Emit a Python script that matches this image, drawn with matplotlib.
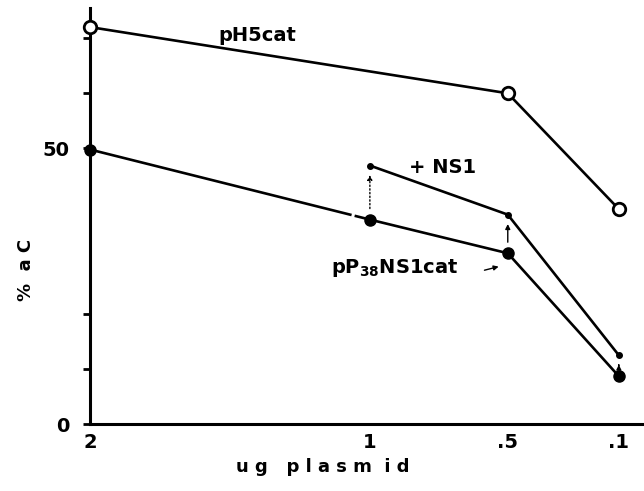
import matplotlib
matplotlib.use('Agg')
import matplotlib.pyplot as plt

# dose of plasmid (ug) and where each sits along the x axis
doses = ['2', '1', '.5', '.1']
x_pos = [0, 1, 1.493, 1.89]

ph5cat = [72, 60, 39]          # at 2, .5, .1
ph5cat_x = [0, 2, 3]
pp38 = [49.8, 37.1, 31, 8.7]   # at 2, 1, .5, .1
ns1 = [46.9, 38, 12.5]         # at 1, .5, .1
ns1_x = [1, 2, 3]

yticks = [0, 10, 20, 50, 60, 70]
ylabels = {0: '0', 50: '50'}

plt.rcParams['font.family'] = ['DejaVu Sans']
plt.rcParams['font.weight'] = 'bold'

fig = plt.figure(figsize=(6.44, 4.91), dpi=100)
ax = fig.add_axes([0.14, 0.136, 0.86, 0.847])

xa = [x_pos[i] for i in ph5cat_x]
ax.plot(xa, ph5cat, c='k', lw=1.9, marker='o', ms=9, mfc='white', mec='k', mew=2, clip_on=False, zorder=3)

# lower line has a small break between 2 and 1
xb = [x_pos[i] for i in range(4)]
ax.plot([xb[0], 0.93], [pp38[0], pp38[0] + (pp38[1] - pp38[0]) * 0.93], c='k', lw=1.9, clip_on=False)
ax.plot([0.95] + xb[1:], [pp38[0] + (pp38[1] - pp38[0]) * 0.95] + pp38[1:], c='k', lw=1.9)
ax.plot(xb, pp38, ls='none', marker='o', ms=8, c='k', clip_on=False, zorder=3)

xc = [x_pos[i] for i in ns1_x]
ax.plot(xc, ns1, c='k', lw=1.9, marker='o', ms=4, clip_on=False, zorder=3)

# arrows from pP38NS1cat up to +NS1
for i, xi in enumerate(xc):
    y0 = pp38[ns1_x[i]]
    y1 = ns1[i]
    ax.annotate('', xy=(xi, y1 - 1.2), xytext=(xi, y0 + 1.5),
                arrowprops=dict(arrowstyle='-|>', lw=1.0, color='k',
                                ls=':' if i == 0 else '-', mutation_scale=7))

ax.text(0.46, 69.5, 'pH5cat', fontsize=14, fontweight='bold')
ax.text(1.14, 45.6, '+ NS1', fontsize=14, fontweight='bold')
ax.text(0.86, 27.5, 'pP$_{\\mathbf{38}}$NS1cat', fontsize=14, fontweight='bold')
ax.annotate('', xy=(1.47, 28.7), xytext=(1.40, 27.8),
            arrowprops=dict(arrowstyle='-|>', lw=1.0, color='k', mutation_scale=7))

ax.set_xlim(0, 1.98)
ax.set_ylim(0, 75.4)
ax.set_xticks(x_pos)
ax.set_xticklabels(doses, fontsize=14, fontweight='bold')
ax.set_yticks(yticks)
ax.set_yticklabels([ylabels.get(t, '') for t in yticks], fontsize=14, fontweight='bold')
ax.tick_params(axis='x', length=0, pad=6)
ax.tick_params(axis='y', direction='out', length=5, width=2, pad=10)

ax.spines['top'].set_visible(False)
ax.spines['right'].set_visible(False)
ax.spines['left'].set_linewidth(2.2)
ax.spines['bottom'].set_linewidth(2.2)

ax.set_xlabel('u g   p l a s m  i d', fontsize=13, fontweight='bold')
ax.set_ylabel('%  a C', fontsize=13, fontweight='bold')
ax.xaxis.set_label_coords(0.42, -0.082)
ax.yaxis.set_label_coords(-0.10, 0.37)

fig.savefig('out.png', dpi=100)
